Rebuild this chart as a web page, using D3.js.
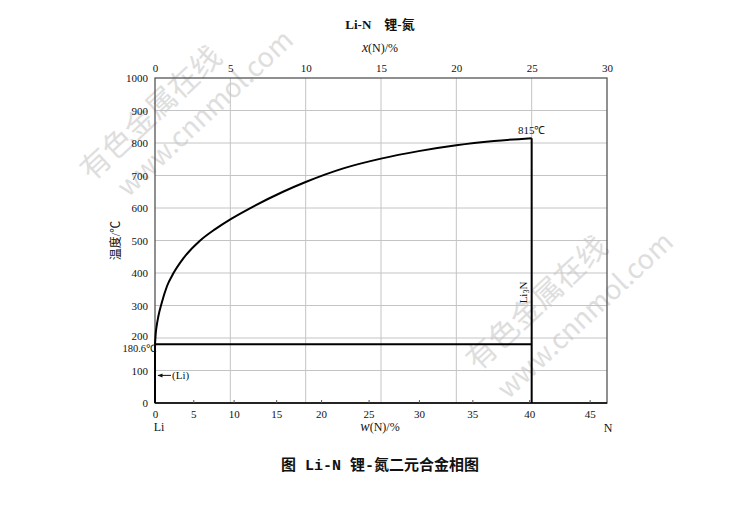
<!DOCTYPE html>
<html><head><meta charset="utf-8">
<script src="https://cdn.jsdelivr.net/npm/d3@7"></script>
<style>body{margin:0;background:#fff}</style>
</head><body>
<svg id="c" width="730" height="513"></svg>
<script>
// ---- data ----
const tempTicks = [0,100,200,300,400,500,600,700,800,900,1000];
const xTicks = [0,5,10,15,20,25,30];          // x(N)/% (atomic)
const wTicks = [0,5,10,15,20,25,30,35,40,45]; // w(N)/% (mass)
const liquidusX = [0,0.05,0.12,0.22,0.44,0.8,1.22,1.88,3.0,4.0,5.0,6.3,8.5,10.0,12.5,15.0,17.5,20.0,22.5,25.0];
const liquidusT = [180.6,215,240,266,307,360,399,445,500,535,565,599,650,680,722,752,775,793,806,815];
const eutecticT = 180.6;
const compoundX = 25;
const compoundT = 815;
const massLi = 6.941, massN = 14.007;

const svg = d3.select("#c");
const x = d3.scaleLinear().domain([0,30]).range([155,607]);
const y = d3.scaleLinear().domain([0,1000]).range([403,78]);
const wToX = w => (w/massN)/((w/massN)+((100-w)/massLi))*100;

const serif = "'Liberation Serif','Times New Roman',serif";
const cjk = "'Liberation Serif','Noto Sans CJK SC',serif";

// watermarks
const wm = svg.append("g").attr("fill","#dedede").attr("font-family","'Noto Sans CJK SC',sans-serif");
[[92,182,"有色金属在线",30],[128,198,"www.cnnmol.com",27],[478,372,"有色金属在线",30],[508,400,"www.cnnmol.com",27]].forEach(d=>{
  wm.append("text").attr("transform",`translate(${d[0]},${d[1]}) rotate(-43)`).attr("font-size",d[3]).text(d[2]);
});

// grid
const g = svg.append("g");
g.selectAll(".hg").data(tempTicks.slice(1,-1)).join("line")
  .attr("x1",x(0)).attr("x2",x(30)).attr("y1",d=>y(d)).attr("y2",d=>y(d))
  .attr("stroke","#c4c4c4").attr("stroke-width",1);
g.selectAll(".vg").data(xTicks.slice(1,-1)).join("line")
  .attr("x1",d=>x(d)).attr("x2",d=>x(d)).attr("y1",y(0)).attr("y2",y(1000))
  .attr("stroke","#c4c4c4").attr("stroke-width",1);

// frame
svg.append("rect").attr("x",x(0)).attr("y",y(1000)).attr("width",x(30)-x(0)).attr("height",y(0)-y(1000))
  .attr("fill","none").attr("stroke","#555").attr("stroke-width",1.3);
svg.append("line").attr("x1",x(0)).attr("x2",x(30)).attr("y1",y(0)).attr("y2",y(0)).attr("stroke","#000").attr("stroke-width",1.5);

// axes
const leftAxis = d3.axisLeft(y).tickValues(tempTicks).tickFormat(d3.format("d")).tickSize(0).tickPadding(7);
svg.append("g").attr("transform",`translate(${x(0)},0)`).call(leftAxis)
  .call(s=>s.select(".domain").remove())
  .selectAll("text").attr("font-family",serif).attr("font-size",11).attr("fill","#111")
  .attr("dy",d=>d===200?"0.1em":"0.32em");
const topAxis = d3.axisTop(x).tickValues(xTicks).tickFormat(d3.format("d")).tickSize(0).tickPadding(6);
svg.append("g").attr("transform",`translate(0,${y(1000)})`).call(topAxis)
  .call(s=>s.select(".domain").remove())
  .selectAll("text").attr("font-family",serif).attr("font-size",11).attr("fill","#111");
const wScale = d3.scaleLinear().domain([0,30]).range([155,607]);
const bottomAxis = d3.axisBottom(wScale).tickValues(wTicks.map(wToX)).tickFormat((d,i)=>wTicks[i]).tickSizeInner(-3).tickSizeOuter(0).tickPadding(7);
svg.append("g").attr("transform",`translate(0,${y(0)})`).call(bottomAxis)
  .call(s=>s.select(".domain").remove())
  .call(s=>s.selectAll("line").attr("stroke","#555"))
  .selectAll("text").attr("font-family",serif).attr("font-size",11).attr("fill","#111");

// phase lines
const line = d3.line().x((d,i)=>x(liquidusX[i])).y(d=>y(d)).curve(d3.curveMonotoneX);
svg.append("path").attr("d",line(liquidusT)).attr("fill","none").attr("stroke","#000").attr("stroke-width",2);
svg.append("line").attr("x1",x(0)).attr("x2",x(compoundX)).attr("y1",y(eutecticT)).attr("y2",y(eutecticT)).attr("stroke","#000").attr("stroke-width",2);
svg.append("line").attr("x1",x(compoundX)).attr("x2",x(compoundX)).attr("y1",y(compoundT)).attr("y2",y(0)).attr("stroke","#000").attr("stroke-width",2);
svg.append("line").attr("x1",x(0)).attr("x2",x(0)).attr("y1",y(eutecticT)).attr("y2",y(0)).attr("stroke","#000").attr("stroke-width",2);

// labels
const t = (px,py,txt,opt={}) => svg.append("text").attr("x",px).attr("y",py).text(txt)
  .attr("font-family",opt.ff||serif).attr("font-size",opt.fs||11).attr("text-anchor",opt.a||"middle")
  .attr("font-weight",opt.fw||"normal").attr("fill","#111");
t(380,29,"Li-N\u2003锂-氮",{ff:cjk,fs:13,fw:"bold"});
const xl = svg.append("text").attr("x",380).attr("y",52).attr("text-anchor","middle").attr("font-family",serif).attr("font-size",12).attr("fill","#111");
xl.append("tspan").attr("font-style","italic").attr("font-size",14).text("x");
xl.append("tspan").text("(N)/%");
const wl = svg.append("text").attr("x",380).attr("y",431).attr("text-anchor","middle").attr("font-family",serif).attr("font-size",12).attr("fill","#111");
wl.append("tspan").attr("font-style","italic").attr("font-size",14).text("w");
wl.append("tspan").text("(N)/%");
t(159,431,"Li",{fs:12});
t(608,432,"N",{fs:12});
svg.append("text").attr("transform",`translate(120,${y(500)}) rotate(-90)`).attr("text-anchor","middle")
  .attr("font-family",cjk).attr("font-size",12).attr("fill","#111").text("温度/℃");
t(x(compoundX),y(compoundT)-4,compoundT+"℃",{fs:11});
t(x(0)+1,y(eutecticT)+7.5,eutecticT+"℃",{fs:10.5,a:"end"});
const li3n = svg.append("text").attr("transform",`translate(${x(compoundX)-5},${y(340)}) rotate(-90)`).attr("text-anchor","middle")
  .attr("font-family",serif).attr("font-size",11).attr("fill","#111");
li3n.append("tspan").text("Li");
li3n.append("tspan").attr("font-size",8).attr("dy",2).text("3");
li3n.append("tspan").attr("dy",-2).text("N");
// (Li) arrow
svg.append("defs").append("marker").attr("id","ar").attr("viewBox","0 0 10 10").attr("refX",9).attr("refY",5)
  .attr("markerWidth",7).attr("markerHeight",5).attr("orient","auto")
  .append("path").attr("d","M0,1L10,5L0,9Z").attr("fill","#111");
svg.append("line").attr("x1",x(0)+16).attr("x2",x(0)+3).attr("y1",y(85)).attr("y2",y(85)).attr("stroke","#111").attr("stroke-width",1).attr("marker-end","url(#ar)");
t(x(0)+17,y(85)+4,"(Li)",{fs:11,a:"start"});
// caption
t(380,470,"图 Li-N 锂-氮二元合金相图",{ff:"'Liberation Mono','Noto Sans CJK SC',monospace",fs:15,fw:"bold"});
</script>
</body></html>
